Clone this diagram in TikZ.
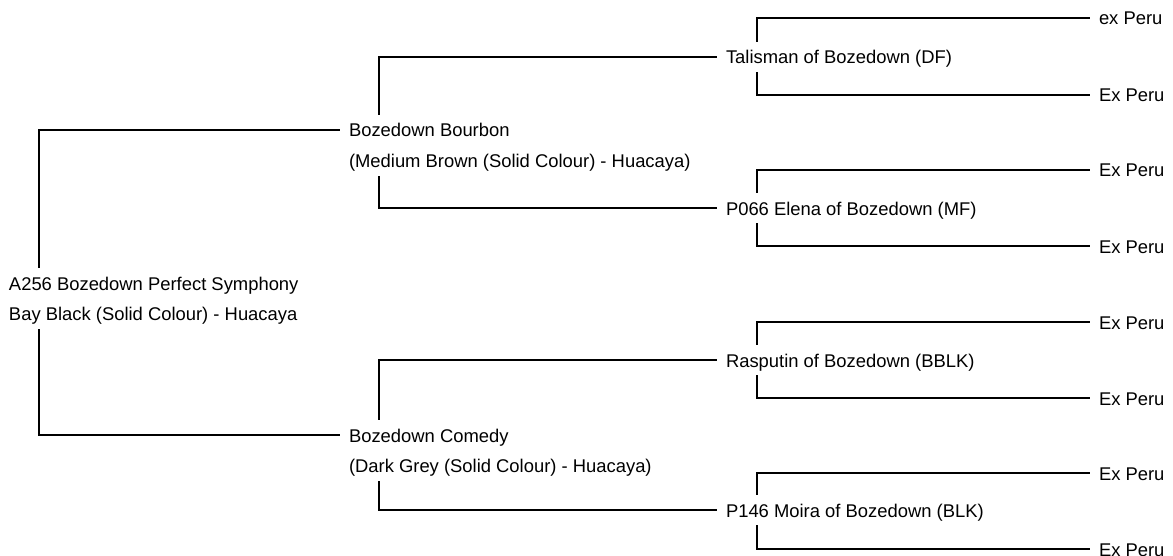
\documentclass[tikz,border=0pt]{standalone}
\usepackage{fontspec}
\setmainfont{Liberation Sans}
\tikzset{
  person/.style={anchor=west, inner xsep=4.5pt, inner ysep=2.2pt, outer sep=0pt,
    text height=0.9em, text depth=0.2em, font=\fontsize{9.2}{11}\selectfont},
  second/.style={person, anchor=north west},
  link/.style={line width=0.7pt},
}
\begin{document}
\begin{tikzpicture}[x=0.5pt,y=-0.5pt]
      \useasboundingbox (0,0) rectangle (1173,556);
      \draw
        (0,283) node[person] (root){A256 Bozedown Perfect Symphony}
        (root.south west) node[second] (root-c){Bay Black (Solid Colour) - Huacaya}
        (340,130) node[person] (bourbon){Bozedown Bourbon}
        (bourbon.south west) node[second] (bourbon-c){(Medium Brown (Solid Colour) - Huacaya)}
        (340,435) node[person] (comedy){Bozedown Comedy}
        (comedy.south west) node[second] (comedy-c){(Dark Grey (Solid Colour) - Huacaya)}
        (717,57) node[person] (talisman){Talisman of Bozedown (DF)}
        (717,208) node[person] (elena){P066 Elena of Bozedown (MF)}
        (717,360) node[person] (rasputin){Rasputin of Bozedown (BBLK)}
        (717,510) node[person] (moira){P146 Moira of Bozedown (BLK)}
        (1090,18) node[person] (t1){ex Peru}
        (1090,95) node[person] (t2){Ex Peru}
        (1090,170) node[person] (e1){Ex Peru}
        (1090,246) node[person] (e2){Ex Peru}
        (1090,322) node[person] (r1){Ex Peru}
        (1090,398) node[person] (r2){Ex Peru}
        (1090,473) node[person] (m1){Ex Peru}
        (1090,549) node[person] (m2){Ex Peru};
      \begin{scope}[link]
        \draw ([xshift=19.5pt]root.north west) |- (bourbon.west);
        \draw ([xshift=19.5pt]root-c.south west) |- (comedy.west);
        \draw ([xshift=19.5pt]bourbon.north west) |- (talisman.west);
        \draw ([xshift=19.5pt]bourbon-c.south west) |- (elena.west);
        \draw ([xshift=19.5pt]comedy.north west) |- (rasputin.west);
        \draw ([xshift=19.5pt]comedy-c.south west) |- (moira.west);
        \draw ([xshift=20pt]talisman.north west) |- (t1.west);
        \draw ([xshift=20pt]talisman.south west) |- (t2.west);
        \draw ([xshift=20pt]elena.north west) |- (e1.west);
        \draw ([xshift=20pt]elena.south west) |- (e2.west);
        \draw ([xshift=20pt]rasputin.north west) |- (r1.west);
        \draw ([xshift=20pt]rasputin.south west) |- (r2.west);
        \draw ([xshift=20pt]moira.north west) |- (m1.west);
        \draw ([xshift=20pt]moira.south west) |- (m2.west);
      \end{scope}
    \end{tikzpicture}
\end{document}
